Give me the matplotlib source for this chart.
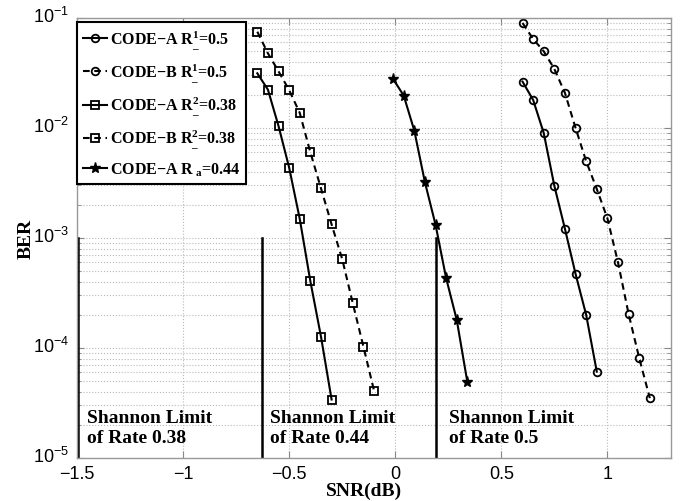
import matplotlib
matplotlib.use("Agg")
import matplotlib.pyplot as plt
import matplotlib.transforms as mtransforms

plt.rcParams['font.family'] = 'Liberation Sans'
plt.rcParams['mathtext.fontset'] = 'custom'
plt.rcParams['mathtext.rm'] = 'Liberation Serif:bold'
plt.rcParams['mathtext.it'] = 'Liberation Serif:bold'
plt.rcParams['mathtext.bf'] = 'Liberation Serif:bold'

# CODE-A / CODE-B for rate 0.5 (circles)
snr_a1 = [0.60, 0.65, 0.70, 0.75, 0.80, 0.85, 0.90, 0.95]
ber_a1 = [0.0264, 0.0180, 0.0090, 0.00298, 0.00121, 0.000471, 0.000200, 6.1e-5]
snr_b1 = [0.60, 0.65, 0.70, 0.75, 0.80, 0.85, 0.90, 0.95, 1.00, 1.05, 1.10, 1.15, 1.20]
ber_b1 = [0.0901, 0.0644, 0.0498, 0.0344, 0.0208, 0.0100, 0.00498, 0.00279,
          0.00151, 0.000601, 0.000204, 8.1e-5, 3.5e-5]
# rate 0.38 (squares)
snr_a2 = [-0.65, -0.60, -0.55, -0.50, -0.45, -0.40, -0.35, -0.30]
ber_a2 = [0.0314, 0.0223, 0.0104, 0.00436, 0.00149, 0.000404, 0.000127, 3.4e-5]
snr_b2 = [-0.65, -0.60, -0.55, -0.50, -0.45, -0.40, -0.35, -0.30, -0.25, -0.20, -0.15, -0.10]
ber_b2 = [0.075, 0.0477, 0.0327, 0.0221, 0.0137, 0.0060, 0.00283, 0.00133,
          0.000644, 0.000255, 0.000103, 4.1e-5]
# rate 0.44 (stars)
snr_ra = [-0.01, 0.04, 0.09, 0.14, 0.19, 0.24, 0.29, 0.34]
ber_ra = [0.0279, 0.0197, 0.00945, 0.00321, 0.00132, 0.000431, 0.000180, 4.9e-5]

# Shannon limits
limit_snr = [-1.495, -0.63, 0.19]
limit_txt = ["of Rate 0.38", "of Rate 0.44", "of Rate 0.5"]
limit_txt_x = [-1.455, -0.59, 0.255]

labels = ['CODE$-$A R$^{1}_{\\_}$=0.5',
          'CODE$-$B R$^{1}_{\\_}$=0.5',
          'CODE$-$A R$^{2}_{\\_}$=0.38',
          'CODE$-$B R$^{2}_{\\_}$=0.38',
          'CODE$-$A R$_{\\ a}$=0.44']

fig = plt.figure(figsize=(6.85, 5.02), dpi=100)
ax = fig.add_axes([0.1124, 0.0857, 0.8672, 0.8765])

dash = (0, (3.2, 2.2))
mk = dict(color='k', lw=1.5, ms=5.5, mfc='none', mew=1.3)
ax.semilogy(snr_a1, ber_a1, marker='o', label=labels[0], **mk)
ax.semilogy(snr_b1, ber_b1, ls=dash, marker='o', label=labels[1], **mk)
ax.semilogy(snr_a2, ber_a2, marker='s', label=labels[2], **mk)
ax.semilogy(snr_b2, ber_b2, ls=dash, marker='s', label=labels[3], **mk)
ax.semilogy(snr_ra, ber_ra, color='k', lw=1.5, marker='*', ms=8, label=labels[4])

for s, t, tx in zip(limit_snr, limit_txt, limit_txt_x):
    ax.plot([s, s], [1e-5, 1e-3], color='k', lw=1.8)
    ax.text(tx, 2.14e-5, "Shannon Limit", family='Liberation Serif', weight='bold', fontsize=14, va='baseline')
    ax.text(tx, 1.39e-5, t, family='Liberation Serif', weight='bold', fontsize=14, va='baseline')

ax.set_xlim(-1.5, 1.3)
ax.set_ylim(1e-5, 1e-1)
ax.set_xticks([-1.5, -1, -0.5, 0, 0.5, 1])
ax.set_xticklabels(['\u22121.5', '\u22121', '\u22120.5', '0', '0.5', '1'])

ax.grid(True, which='major', ls=':', color='#b8b8b8', lw=0.8)
ax.grid(True, which='minor', axis='y', ls=':', color='#b8b8b8', lw=0.8)
ax.tick_params(which='both', direction='in', top=True, right=True, color='#888888', labelsize=13)
ax.tick_params(which='major', length=5)
ax.tick_params(axis='x', which='major', pad=5)
ax.tick_params(axis='y', which='major', pad=6)
ax.tick_params(which='minor', length=3)
for sp in ax.spines.values():
    sp.set_color('#999999')
    sp.set_linewidth(1.0)

# y tick labels sit a little high, like the original
up = mtransforms.ScaledTranslation(0, 4 / 100, fig.dpi_scale_trans)
for lab in ax.get_yticklabels():
    lab.set_transform(lab.get_transform() + up)

ax.set_xlabel('SNR(dB)', family='Liberation Serif', weight='bold', fontsize=14)
ax.set_ylabel('BER', family='Liberation Serif', weight='bold', fontsize=14)
ax.xaxis.set_label_coords(0.483, -0.054)
ax.yaxis.set_label_coords(-0.072, 0.5)

leg = ax.legend(loc='upper left', bbox_to_anchor=(0.0, 0.99), borderaxespad=0,
                prop={'family': 'Liberation Serif', 'weight': 'bold', 'size': 11.5},
                fancybox=False, edgecolor='k', framealpha=1, handlelength=1.5,
                handletextpad=0.2, labelspacing=0.6, borderpad=0.35)
leg.get_frame().set_linewidth(1.5)

fig.savefig('out.png', dpi=100)
